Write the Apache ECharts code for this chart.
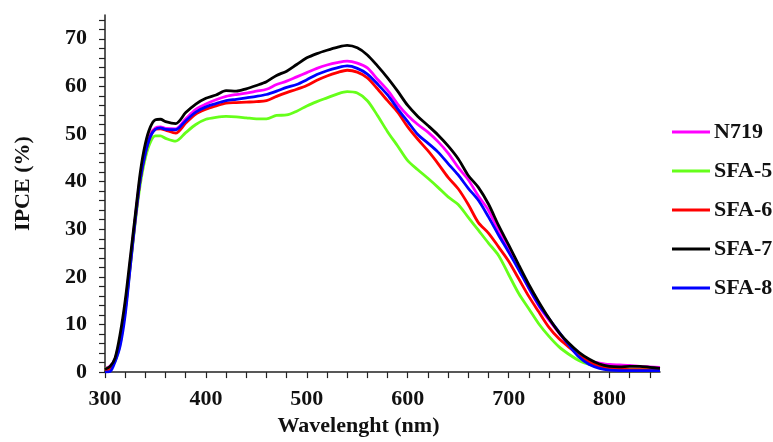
<!DOCTYPE html>
<html>
<head>
<meta charset="utf-8">
<script src="https://cdn.jsdelivr.net/npm/echarts@6/dist/echarts.min.js"></script>
<style>html,body{margin:0;padding:0;background:#fff;}#c{width:773px;height:442px;}</style>
</head>
<body>
<div id="c"></div>
<script>
const wavelengths = [300,305,310,315,320,325,330,335,340,345,350,355,360,370,380,390,400,410,420,430,440,450,460,470,480,490,500,510,520,530,540,550,560,570,580,590,600,610,620,630,640,650,660,670,680,690,700,710,720,730,740,750,760,770,780,790,800,810,820,830,840,850];

const seriesNames = ['N719','SFA-5','SFA-6','SFA-7','SFA-8'];

const n719 = [0.8,1.2,2.8,7,14,23,32.5,41,46.5,50,51.3,51.5,51.2,51.1,53.2,55.2,56.3,57.2,57.9,58.3,58.6,59.0,59.4,60.4,61.1,62.0,62.9,63.8,64.5,65.0,65.3,64.9,63.9,61.5,59.2,56.3,53.9,52.0,50.4,48.4,46.0,43.0,40.4,37.0,34.0,29.7,25.8,21.7,17.6,13.9,10.9,8.2,5.5,3.3,2.3,1.9,1.6,1.5,1.4,1.2,1.1,1.0];

const sfa5 = [0.8,1.0,2.3,6,13,22,31.5,39.5,45,48.3,49.6,49.6,49.1,48.5,50.3,52.0,53.1,53.5,53.7,53.6,53.4,53.2,53.2,53.9,54.0,54.8,55.9,56.8,57.6,58.4,58.9,58.6,57.0,53.9,50.5,47.5,44.4,42.5,40.7,38.8,36.8,35.2,32.5,29.8,27.1,24.5,20.5,16.5,13.3,10.1,7.5,5.3,3.7,2.4,1.6,1.1,0.8,0.6,0.5,0.5,0.5,0.5];

const sfa6 = [0.3,0.8,2.5,6.5,13,22.5,32,40.5,46,49.5,51,51.1,50.8,50.2,52.3,54.2,55.2,55.9,56.5,56.6,56.7,56.8,57.0,57.9,58.7,59.4,60.2,61.3,62.2,62.9,63.4,63.0,61.8,59.5,57.0,54.6,51.5,48.9,46.5,43.8,40.9,38.5,35.2,31.4,29.2,26.3,23.3,19.6,15.9,12.6,9.4,7.0,5.2,3.5,2.1,1.2,0.8,0.6,0.5,0.5,0.5,0.5];

const sfa7 = [0.6,1.2,3,8,15,24,33,42,48,51.5,53,53.1,52.6,52.2,54.5,56.3,57.5,58.2,59.1,59.0,59.5,60.2,61.0,62.3,63.2,64.6,66.0,66.9,67.6,68.2,68.6,68.1,66.6,64.3,61.8,59.0,56.0,53.7,51.8,49.8,47.5,44.8,41.3,38.8,35.3,30.8,26.7,22.5,18.4,14.7,11.3,8.3,6.0,4.1,2.7,1.7,1.2,1.1,1.2,1.2,1.0,0.8];

const sfa8 = [0,0.1,2.2,5.5,12,22,32,40.5,46,49.5,51,51.3,51.0,50.9,52.8,54.6,55.7,56.4,57.0,57.3,57.6,57.9,58.3,59.0,59.8,60.4,61.4,62.5,63.3,63.9,64.3,63.8,62.6,60.5,58.2,55.3,52.6,49.9,48.1,46.2,43.8,41.4,38.6,36.1,32.6,28.8,25.2,21.5,17.7,14.1,11.2,8.4,5.6,3.1,1.6,0.8,0.4,0.3,0.3,0.3,0.3,0.3];

const seriesColors = ['#ff00ff','#66ff1a','#ff0000','#000000','#0000ff'];
const seriesValues = [n719, sfa5, sfa6, sfa7, sfa8];

const chart = echarts.init(document.getElementById('c'));
const font = '"Liberation Serif","Times New Roman",serif';

chart.setOption({
  backgroundColor: '#ffffff',
  animation: false,
  grid: {left: 105, right: 113, top: 15, bottom: 60},
  legend: {
    orient: 'vertical',
    left: 667,
    top: 116,
    icon: 'rect',
    itemWidth: 38,
    itemHeight: 3,
    itemGap: 17,
    data: seriesNames,
    textStyle: {fontFamily: font, fontWeight: 'bold', fontSize: 22, color: '#111', lineHeight: 22, padding: [0,0,0,-1]}
  },
  xAxis: {
    type: 'value',
    min: 300, max: 850, interval: 20,
    name: 'Wavelenght (nm)',
    nameLocation: 'middle',
    nameGap: 40,
    nameTextStyle: {fontFamily: font, fontWeight: 'bold', fontSize: 22, color: '#111', padding: [0, 48, 0, 0]},
    axisLine: {show: true, lineStyle: {color: '#222', width: 1.5}},
    axisTick: {show: true, length: 6, lineStyle: {color: '#222', width: 1.2}},
    axisLabel: {
      interval: 0, showMaxLabel: false, margin: 16,
      fontFamily: font, fontWeight: 'bold', fontSize: 22, color: '#111',
      formatter: v => (v % 100 === 0 ? String(v) : '')
    },
    splitLine: {show: false}
  },
  yAxis: {
    type: 'value',
    min: 0, max: 75, interval: 2,
    name: 'IPCE (%)',
    nameLocation: 'middle',
    nameGap: 71,
    nameTextStyle: {fontFamily: font, fontWeight: 'bold', fontSize: 22, color: '#111', padding: [0, 0, 0, 20]},
    axisLine: {show: true, lineStyle: {color: '#222', width: 1.5}},
    axisTick: {show: true, length: 6, lineStyle: {color: '#222', width: 1.2}},
    axisLabel: {
      interval: 0, showMaxLabel: false, margin: 18,
      fontFamily: font, fontWeight: 'bold', fontSize: 22, color: '#111',
      formatter: v => (v % 10 === 0 ? String(v) : '')
    },
    splitLine: {show: false}
  },
  series: seriesNames.map((name, i) => ({
    name: name,
    type: 'line',
    symbol: 'none',
    smooth: 0.3,
    color: seriesColors[i],
    lineStyle: {width: 2.8, color: seriesColors[i]},
    data: wavelengths.map((w, j) => [w, seriesValues[i][j]]),
    z: i === 3 ? 3 : 2
  }))
});
</script>
</body>
</html>
